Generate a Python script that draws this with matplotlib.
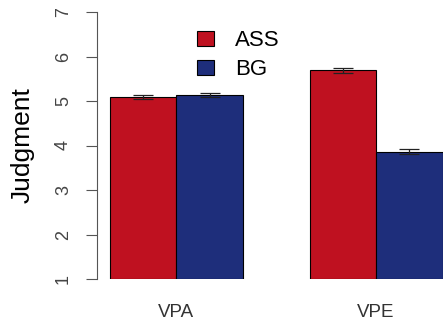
import numpy as np
import matplotlib.pyplot as plt

plt.rcParams['font.family'] = ['Liberation Sans', 'DejaVu Sans']

# Data
conditions = ['VPA', 'VPE']
groups = ['ASS', 'BG']
means = {'ASS': [5.09, 5.69], 'BG': [5.13, 3.86]}
errors = {'ASS': [0.05, 0.05], 'BG': [0.05, 0.06]}
colors = {'ASS': '#BF1120', 'BG': '#1E2E7B'}

fig = plt.figure(figsize=(4.43, 3.2), dpi=100)
ax = fig.add_axes([97 / 443, 41 / 320, 346 / 443, 267 / 320])

# R-style beside barplot: bars of width 1, one bar of space between groups
for i, g in enumerate(groups):
    x = np.arange(len(conditions)) * 3 + 1.5 + i
    ax.bar(x, np.array(means[g]) - 1, bottom=1, width=1.0,
           color=colors[g], edgecolor='black', linewidth=0.8, label=g)
    ax.errorbar(x, means[g], yerr=errors[g], fmt='none', ecolor='#222222',
                elinewidth=0.9, capsize=7, capthick=0.9)

ax.set_xlim(0.805, 6.007)
ax.set_ylim(1, 7)

# axes styling
for s in ['top', 'right', 'bottom']:
    ax.spines[s].set_visible(False)
ax.spines['left'].set_bounds(1, 7)
ax.spines['left'].set_color('#555555')
ax.set_yticks(range(1, 8))
ax.tick_params(axis='y', direction='out', length=8, color='#555555',
               labelsize=13, labelcolor='#444444', pad=10)
for lab in ax.get_yticklabels():
    lab.set_rotation(90)
    lab.set_va('center')

ax.set_xticks(np.arange(len(conditions)) * 3 + 2)
ax.set_xticklabels(conditions)
ax.tick_params(axis='x', length=0, labelsize=13.5, labelcolor='#333333', pad=18)

ax.set_ylabel('Judgment', fontsize=19)
ax.yaxis.set_label_coords(-0.18, 0.5)

ax.legend(loc='upper left', bbox_to_anchor=(197 / 443, 1 - 30 / 320),
          bbox_transform=fig.transFigure, frameon=False, fontsize=16,
          handlelength=0.78, handleheight=0.64, handletextpad=0.95,
          labelspacing=0.38, borderpad=0, borderaxespad=0)

plt.savefig('out.png', dpi=100)
